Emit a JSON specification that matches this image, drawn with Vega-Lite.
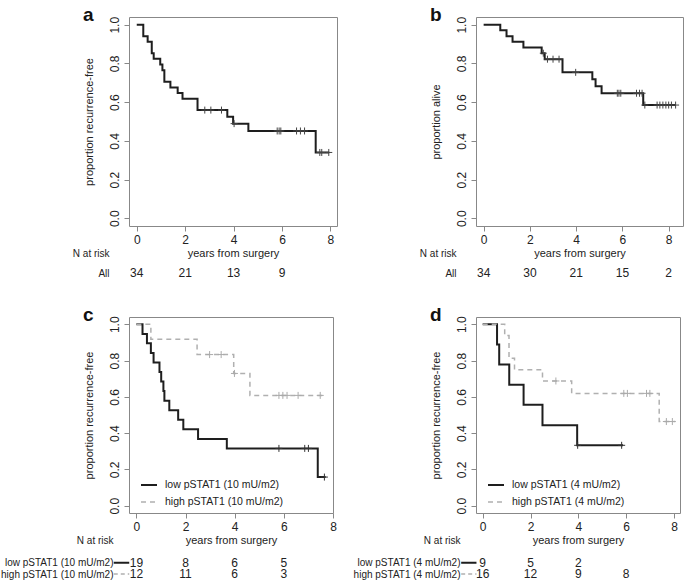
{
  "$schema": "https://vega.github.io/schema/vega-lite/v6.json",
  "padding": {"left": 0, "top": 5, "right": 0, "bottom": 0},
  "columns": 2,
  "align": "each",
  "spacing": {"row": 1, "column": 15},
  "resolve": {
    "scale": {"color": "independent", "strokeDash": "independent", "strokeWidth": "independent", "stroke": "independent"},
    "legend": {"color": "independent", "strokeDash": "independent"}
  },
  "datasets": {
    "km": [
      {"panel":"a","group":"All","t":0,"s":1},{"panel":"a","group":"All","t":0.27,"s":0.941},{"panel":"a","group":"All","t":0.45,"s":0.912},{"panel":"a","group":"All","t":0.62,"s":0.853},{"panel":"a","group":"All","t":0.70,"s":0.824},{"panel":"a","group":"All","t":0.97,"s":0.794},{"panel":"a","group":"All","t":1.06,"s":0.765},{"panel":"a","group":"All","t":1.14,"s":0.706},{"panel":"a","group":"All","t":1.39,"s":0.676},{"panel":"a","group":"All","t":1.69,"s":0.647},{"panel":"a","group":"All","t":1.89,"s":0.618},{"panel":"a","group":"All","t":2.51,"s":0.559},{"panel":"a","group":"All","t":3.74,"s":0.524},{"panel":"a","group":"All","t":3.98,"s":0.489},{"panel":"a","group":"All","t":4.61,"s":0.451},{"panel":"a","group":"All","t":7.39,"s":0.34},{"panel":"a","group":"All","t":7.95,"s":0.34},
      {"panel":"b","group":"All","t":0,"s":1},{"panel":"b","group":"All","t":0.72,"s":0.971},{"panel":"b","group":"All","t":0.99,"s":0.941},{"panel":"b","group":"All","t":1.25,"s":0.912},{"panel":"b","group":"All","t":1.72,"s":0.882},{"panel":"b","group":"All","t":2.51,"s":0.853},{"panel":"b","group":"All","t":2.64,"s":0.822},{"panel":"b","group":"All","t":3.41,"s":0.754},{"panel":"b","group":"All","t":4.70,"s":0.718},{"panel":"b","group":"All","t":4.84,"s":0.682},{"panel":"b","group":"All","t":5.10,"s":0.646},{"panel":"b","group":"All","t":6.90,"s":0.585},{"panel":"b","group":"All","t":8.30,"s":0.585},
      {"panel":"c","group":"low pSTAT1 (10 mU/m2)","t":0,"s":1},{"panel":"c","group":"low pSTAT1 (10 mU/m2)","t":0.25,"s":0.947},{"panel":"c","group":"low pSTAT1 (10 mU/m2)","t":0.43,"s":0.895},{"panel":"c","group":"low pSTAT1 (10 mU/m2)","t":0.59,"s":0.842},{"panel":"c","group":"low pSTAT1 (10 mU/m2)","t":0.70,"s":0.789},{"panel":"c","group":"low pSTAT1 (10 mU/m2)","t":0.94,"s":0.737},{"panel":"c","group":"low pSTAT1 (10 mU/m2)","t":1.01,"s":0.684},{"panel":"c","group":"low pSTAT1 (10 mU/m2)","t":1.10,"s":0.632},{"panel":"c","group":"low pSTAT1 (10 mU/m2)","t":1.14,"s":0.579},{"panel":"c","group":"low pSTAT1 (10 mU/m2)","t":1.34,"s":0.526},{"panel":"c","group":"low pSTAT1 (10 mU/m2)","t":1.70,"s":0.474},{"panel":"c","group":"low pSTAT1 (10 mU/m2)","t":1.91,"s":0.421},{"panel":"c","group":"low pSTAT1 (10 mU/m2)","t":2.51,"s":0.368},{"panel":"c","group":"low pSTAT1 (10 mU/m2)","t":3.68,"s":0.316},{"panel":"c","group":"low pSTAT1 (10 mU/m2)","t":7.38,"s":0.158},{"panel":"c","group":"low pSTAT1 (10 mU/m2)","t":7.70,"s":0.158},
      {"panel":"c","group":"high pSTAT1 (10 mU/m2)","t":0,"s":1},{"panel":"c","group":"high pSTAT1 (10 mU/m2)","t":0.59,"s":0.917},{"panel":"c","group":"high pSTAT1 (10 mU/m2)","t":2.47,"s":0.833},{"panel":"c","group":"high pSTAT1 (10 mU/m2)","t":3.96,"s":0.729},{"panel":"c","group":"high pSTAT1 (10 mU/m2)","t":4.62,"s":0.608},{"panel":"c","group":"high pSTAT1 (10 mU/m2)","t":7.60,"s":0.608},
      {"panel":"d","group":"low pSTAT1 (4 mU/m2)","t":0,"s":1},{"panel":"d","group":"low pSTAT1 (4 mU/m2)","t":0.60,"s":0.889},{"panel":"d","group":"low pSTAT1 (4 mU/m2)","t":0.69,"s":0.778},{"panel":"d","group":"low pSTAT1 (4 mU/m2)","t":1.11,"s":0.667},{"panel":"d","group":"low pSTAT1 (4 mU/m2)","t":1.71,"s":0.556},{"panel":"d","group":"low pSTAT1 (4 mU/m2)","t":2.50,"s":0.444},{"panel":"d","group":"low pSTAT1 (4 mU/m2)","t":3.95,"s":0.333},{"panel":"d","group":"low pSTAT1 (4 mU/m2)","t":5.87,"s":0.333},
      {"panel":"d","group":"high pSTAT1 (4 mU/m2)","t":0,"s":1},{"panel":"d","group":"high pSTAT1 (4 mU/m2)","t":0.92,"s":0.9375},{"panel":"d","group":"high pSTAT1 (4 mU/m2)","t":1.10,"s":0.8125},{"panel":"d","group":"high pSTAT1 (4 mU/m2)","t":1.33,"s":0.75},{"panel":"d","group":"high pSTAT1 (4 mU/m2)","t":2.50,"s":0.6875},{"panel":"d","group":"high pSTAT1 (4 mU/m2)","t":3.72,"s":0.619},{"panel":"d","group":"high pSTAT1 (4 mU/m2)","t":7.38,"s":0.464},{"panel":"d","group":"high pSTAT1 (4 mU/m2)","t":8.05,"s":0.464}
    ],
    "cens": [
      {"panel":"a","group":"All","t":2.81,"s":0.559},{"panel":"a","group":"All","t":3.06,"s":0.559},{"panel":"a","group":"All","t":3.50,"s":0.559},{"panel":"a","group":"All","t":4.02,"s":0.489},{"panel":"a","group":"All","t":5.80,"s":0.451},{"panel":"a","group":"All","t":5.88,"s":0.451},{"panel":"a","group":"All","t":5.95,"s":0.451},{"panel":"a","group":"All","t":6.60,"s":0.451},{"panel":"a","group":"All","t":6.76,"s":0.451},{"panel":"a","group":"All","t":6.93,"s":0.451},{"panel":"a","group":"All","t":7.56,"s":0.34},{"panel":"a","group":"All","t":7.64,"s":0.34},{"panel":"a","group":"All","t":7.93,"s":0.34},
      {"panel":"b","group":"All","t":2.58,"s":0.853},{"panel":"b","group":"All","t":2.76,"s":0.822},{"panel":"b","group":"All","t":3.00,"s":0.822},{"panel":"b","group":"All","t":3.26,"s":0.822},{"panel":"b","group":"All","t":3.98,"s":0.754},{"panel":"b","group":"All","t":5.78,"s":0.646},{"panel":"b","group":"All","t":5.85,"s":0.646},{"panel":"b","group":"All","t":5.93,"s":0.646},{"panel":"b","group":"All","t":6.61,"s":0.646},{"panel":"b","group":"All","t":6.74,"s":0.646},{"panel":"b","group":"All","t":6.85,"s":0.646},{"panel":"b","group":"All","t":6.97,"s":0.585},{"panel":"b","group":"All","t":7.50,"s":0.585},{"panel":"b","group":"All","t":7.62,"s":0.585},{"panel":"b","group":"All","t":7.75,"s":0.585},{"panel":"b","group":"All","t":7.88,"s":0.585},{"panel":"b","group":"All","t":8.00,"s":0.585},{"panel":"b","group":"All","t":8.12,"s":0.585},{"panel":"b","group":"All","t":8.30,"s":0.585},
      {"panel":"c","group":"low pSTAT1 (10 mU/m2)","t":5.80,"s":0.316},{"panel":"c","group":"low pSTAT1 (10 mU/m2)","t":6.85,"s":0.316},{"panel":"c","group":"low pSTAT1 (10 mU/m2)","t":7.00,"s":0.316},{"panel":"c","group":"low pSTAT1 (10 mU/m2)","t":7.65,"s":0.158},
      {"panel":"c","group":"high pSTAT1 (10 mU/m2)","t":2.98,"s":0.833},{"panel":"c","group":"high pSTAT1 (10 mU/m2)","t":3.45,"s":0.833},{"panel":"c","group":"high pSTAT1 (10 mU/m2)","t":3.99,"s":0.729},{"panel":"c","group":"high pSTAT1 (10 mU/m2)","t":5.80,"s":0.608},{"panel":"c","group":"high pSTAT1 (10 mU/m2)","t":5.96,"s":0.608},{"panel":"c","group":"high pSTAT1 (10 mU/m2)","t":6.13,"s":0.608},{"panel":"c","group":"high pSTAT1 (10 mU/m2)","t":6.58,"s":0.608},{"panel":"c","group":"high pSTAT1 (10 mU/m2)","t":7.48,"s":0.608},
      {"panel":"d","group":"low pSTAT1 (4 mU/m2)","t":3.97,"s":0.333},{"panel":"d","group":"low pSTAT1 (4 mU/m2)","t":5.81,"s":0.333},
      {"panel":"d","group":"high pSTAT1 (4 mU/m2)","t":3.06,"s":0.6875},{"panel":"d","group":"high pSTAT1 (4 mU/m2)","t":5.90,"s":0.619},{"panel":"d","group":"high pSTAT1 (4 mU/m2)","t":6.05,"s":0.619},{"panel":"d","group":"high pSTAT1 (4 mU/m2)","t":6.85,"s":0.619},{"panel":"d","group":"high pSTAT1 (4 mU/m2)","t":6.99,"s":0.619},{"panel":"d","group":"high pSTAT1 (4 mU/m2)","t":7.68,"s":0.464},{"panel":"d","group":"high pSTAT1 (4 mU/m2)","t":7.93,"s":0.464}
    ],
    "risk": [
      {"panel":"a","row":"All","t":0,"n":34},{"panel":"a","row":"All","t":2,"n":21},{"panel":"a","row":"All","t":4,"n":13},{"panel":"a","row":"All","t":6,"n":9},
      {"panel":"b","row":"All","t":0,"n":34},{"panel":"b","row":"All","t":2,"n":30},{"panel":"b","row":"All","t":4,"n":21},{"panel":"b","row":"All","t":6,"n":15},{"panel":"b","row":"All","t":8,"n":2},
      {"panel":"c","row":"low pSTAT1 (10 mU/m2)","t":0,"n":19},{"panel":"c","row":"low pSTAT1 (10 mU/m2)","t":2,"n":8},{"panel":"c","row":"low pSTAT1 (10 mU/m2)","t":4,"n":6},{"panel":"c","row":"low pSTAT1 (10 mU/m2)","t":6,"n":5},
      {"panel":"c","row":"high pSTAT1 (10 mU/m2)","t":0,"n":12},{"panel":"c","row":"high pSTAT1 (10 mU/m2)","t":2,"n":11},{"panel":"c","row":"high pSTAT1 (10 mU/m2)","t":4,"n":6},{"panel":"c","row":"high pSTAT1 (10 mU/m2)","t":6,"n":3},
      {"panel":"d","row":"low pSTAT1 (4 mU/m2)","t":0,"n":9},{"panel":"d","row":"low pSTAT1 (4 mU/m2)","t":2,"n":5},{"panel":"d","row":"low pSTAT1 (4 mU/m2)","t":4,"n":2},
      {"panel":"d","row":"high pSTAT1 (4 mU/m2)","t":0,"n":16},{"panel":"d","row":"high pSTAT1 (4 mU/m2)","t":2,"n":12},{"panel":"d","row":"high pSTAT1 (4 mU/m2)","t":4,"n":9},{"panel":"d","row":"high pSTAT1 (4 mU/m2)","t":6,"n":8}
    ]
  },
  "concat": [
    {
      "title": {"text": "a"},
      "width": 208, "height": 209,
      "data": {"name": "km"},
      "layer": [
        {"transform": [{"filter": "datum.panel === 'a'"}],
         "mark": {"type": "line", "interpolate": "step-after", "color": "#1e1e1e", "strokeWidth": 2},
         "encoding": {
           "x": {"field": "t", "type": "quantitative", "scale": {"domain": [-0.32, 8.27], "nice": false, "zero": false}, "axis": {"title": null, "values": [0,2,4,6,8], "tickCount": 5, "labelPadding": 3, "labelFlush": false}},
           "y": {"field": "s", "type": "quantitative", "scale": {"domain": [-0.04, 1.04], "nice": false, "zero": false}, "axis": {"title": "proportion recurrence-free", "values": [0,0.2,0.4,0.6,0.8,1], "tickCount": 6, "format": ".1f", "labelAngle": 270, "labelAlign": "center", "labelBaseline": "bottom", "labelPadding": 3, "titlePadding": 14, "labelOverlap": false}}
         }},
        {"data": {"name": "cens"}, "transform": [{"filter": "datum.panel === 'a'"}],
         "mark": {"type": "point", "shape": "M0,-1L0,1M-1,0L1,0", "filled": false, "size": 49, "strokeWidth": 1, "color": "#444", "opacity": 1},
         "encoding": {"x": {"field": "t", "type": "quantitative"}, "y": {"field": "s", "type": "quantitative"}}}
      ]
    },
    {
      "title": {"text": "b"},
      "width": 207, "height": 209,
      "data": {"name": "km"},
      "layer": [
        {"transform": [{"filter": "datum.panel === 'b'"}],
         "mark": {"type": "line", "interpolate": "step-after", "color": "#1e1e1e", "strokeWidth": 2},
         "encoding": {
           "x": {"field": "t", "type": "quantitative", "scale": {"domain": [-0.33, 8.62], "nice": false, "zero": false}, "axis": {"title": null, "values": [0,2,4,6,8], "tickCount": 5, "labelPadding": 3, "labelFlush": false}},
           "y": {"field": "s", "type": "quantitative", "scale": {"domain": [-0.04, 1.04], "nice": false, "zero": false}, "axis": {"title": "proportion alive", "values": [0,0.2,0.4,0.6,0.8,1], "tickCount": 6, "format": ".1f", "labelAngle": 270, "labelAlign": "center", "labelBaseline": "bottom", "labelPadding": 3, "titlePadding": 14, "labelOverlap": false}}
         }},
        {"data": {"name": "cens"}, "transform": [{"filter": "datum.panel === 'b'"}],
         "mark": {"type": "point", "shape": "M0,-1L0,1M-1,0L1,0", "filled": false, "size": 49, "strokeWidth": 1, "color": "#444", "opacity": 1},
         "encoding": {"x": {"field": "t", "type": "quantitative"}, "y": {"field": "s", "type": "quantitative"}}}
      ]
    },
    {
      "width": 208, "height": 51,
      "view": {"stroke": null},
      "data": {"name": "risk"},
      "transform": [{"filter": "datum.panel === 'a'"}],
      "mark": {"type": "text", "fontSize": 12, "color": "#222"},
      "encoding": {
        "x": {"field": "t", "type": "quantitative", "scale": {"domain": [-0.32, 8.27], "nice": false, "zero": false}, "axis": {"orient": "top", "title": "years from surgery", "labels": false, "ticks": false, "domain": false, "titlePadding": 0, "titleBaseline": "middle"}},
        "y": {"field": "row", "type": "ordinal", "scale": {"type": "point", "domain": ["N at risk", "All"], "range": [0, 20], "padding": 0}, "axis": {"title": null, "ticks": false, "domain": false, "labelPadding": 20, "labelFontSize": 10}},
        "text": {"field": "n", "type": "quantitative"}
      }
    },
    {
      "width": 207, "height": 51,
      "view": {"stroke": null},
      "data": {"name": "risk"},
      "transform": [{"filter": "datum.panel === 'b'"}],
      "mark": {"type": "text", "fontSize": 12, "color": "#222"},
      "encoding": {
        "x": {"field": "t", "type": "quantitative", "scale": {"domain": [-0.33, 8.62], "nice": false, "zero": false}, "axis": {"orient": "top", "title": "years from surgery", "labels": false, "ticks": false, "domain": false, "titlePadding": 0, "titleBaseline": "middle"}},
        "y": {"field": "row", "type": "ordinal", "scale": {"type": "point", "domain": ["N at risk", "All"], "range": [0, 20], "padding": 0}, "axis": {"title": null, "ticks": false, "domain": false, "labelPadding": 20, "labelFontSize": 10}},
        "text": {"field": "n", "type": "quantitative"}
      }
    },
    {
      "title": {"text": "c"},
      "width": 204, "height": 196,
      "data": {"name": "km"},
      "layer": [
        {"transform": [{"filter": "datum.panel === 'c'"}],
         "mark": {"type": "line", "interpolate": "step-after"},
         "encoding": {
           "x": {"field": "t", "type": "quantitative", "scale": {"domain": [-0.3, 8.0], "nice": false, "zero": false}, "axis": {"title": null, "values": [0,2,4,6,8], "tickCount": 5, "labelPadding": 3, "labelFlush": false}},
           "y": {"field": "s", "type": "quantitative", "scale": {"domain": [-0.04, 1.04], "nice": false, "zero": false}, "axis": {"title": "proportion recurrence-free", "values": [0,0.2,0.4,0.6,0.8,1], "tickCount": 6, "format": ".1f", "labelAngle": 270, "labelAlign": "center", "labelBaseline": "bottom", "labelPadding": 3, "titlePadding": 14, "labelOverlap": false}},
           "color": {"field": "group", "type": "nominal", "scale": {"domain": ["low pSTAT1 (10 mU/m2)", "high pSTAT1 (10 mU/m2)"], "range": ["#1e1e1e", "#b0b0b0"]}, "legend": {"orient": "bottom-left", "title": null, "offset": 5, "padding": 0, "symbolType": "stroke", "symbolSize": 256, "symbolStrokeWidth": 2, "symbolOffset": 6, "labelFontSize": 10.5, "labelOffset": 7, "rowPadding": 2, "labelColor": "#222"}},
           "strokeDash": {"field": "group", "type": "nominal", "scale": {"domain": ["low pSTAT1 (10 mU/m2)", "high pSTAT1 (10 mU/m2)"], "range": [[1, 0], [5, 4]]}, "legend": {"orient": "bottom-left", "title": null, "offset": 5, "padding": 0, "symbolType": "stroke", "symbolSize": 256, "symbolStrokeWidth": 2, "symbolOffset": 6, "labelFontSize": 10.5, "labelOffset": 7, "rowPadding": 2, "labelColor": "#222"}},
           "strokeWidth": {"field": "group", "type": "ordinal", "scale": {"domain": ["low pSTAT1 (10 mU/m2)", "high pSTAT1 (10 mU/m2)"], "range": [2, 1.5]}, "legend": null}
         }},
        {"data": {"name": "cens"}, "transform": [{"filter": "datum.panel === 'c'"}],
         "mark": {"type": "point", "shape": "M0,-1L0,1M-1,0L1,0", "filled": false, "size": 49, "strokeWidth": 1, "opacity": 1},
         "encoding": {"x": {"field": "t", "type": "quantitative"}, "y": {"field": "s", "type": "quantitative"},
           "stroke": {"field": "group", "type": "nominal", "scale": {"domain": ["low pSTAT1 (10 mU/m2)", "high pSTAT1 (10 mU/m2)"], "range": ["#333", "#aaa"]}, "legend": null}}}
      ]
    },
    {
      "title": {"text": "d"},
      "width": 204, "height": 196,
      "data": {"name": "km"},
      "layer": [
        {"transform": [{"filter": "datum.panel === 'd'"}],
         "mark": {"type": "line", "interpolate": "step-after"},
         "encoding": {
           "x": {"field": "t", "type": "quantitative", "scale": {"domain": [-0.28, 8.25], "nice": false, "zero": false}, "axis": {"title": null, "values": [0,2,4,6,8], "tickCount": 5, "labelPadding": 3, "labelFlush": false}},
           "y": {"field": "s", "type": "quantitative", "scale": {"domain": [-0.04, 1.04], "nice": false, "zero": false}, "axis": {"title": "proportion recurrence-free", "values": [0,0.2,0.4,0.6,0.8,1], "tickCount": 6, "format": ".1f", "labelAngle": 270, "labelAlign": "center", "labelBaseline": "bottom", "labelPadding": 3, "titlePadding": 14, "labelOverlap": false}},
           "color": {"field": "group", "type": "nominal", "scale": {"domain": ["low pSTAT1 (4 mU/m2)", "high pSTAT1 (4 mU/m2)"], "range": ["#1e1e1e", "#b0b0b0"]}, "legend": {"orient": "bottom-left", "title": null, "offset": 5, "padding": 0, "symbolType": "stroke", "symbolSize": 256, "symbolStrokeWidth": 2, "symbolOffset": 6, "labelFontSize": 10.5, "labelOffset": 7, "rowPadding": 2, "labelColor": "#222"}},
           "strokeDash": {"field": "group", "type": "nominal", "scale": {"domain": ["low pSTAT1 (4 mU/m2)", "high pSTAT1 (4 mU/m2)"], "range": [[1, 0], [5, 4]]}, "legend": {"orient": "bottom-left", "title": null, "offset": 5, "padding": 0, "symbolType": "stroke", "symbolSize": 256, "symbolStrokeWidth": 2, "symbolOffset": 6, "labelFontSize": 10.5, "labelOffset": 7, "rowPadding": 2, "labelColor": "#222"}},
           "strokeWidth": {"field": "group", "type": "ordinal", "scale": {"domain": ["low pSTAT1 (4 mU/m2)", "high pSTAT1 (4 mU/m2)"], "range": [2, 1.5]}, "legend": null}
         }},
        {"data": {"name": "cens"}, "transform": [{"filter": "datum.panel === 'd'"}],
         "mark": {"type": "point", "shape": "M0,-1L0,1M-1,0L1,0", "filled": false, "size": 49, "strokeWidth": 1, "opacity": 1},
         "encoding": {"x": {"field": "t", "type": "quantitative"}, "y": {"field": "s", "type": "quantitative"},
           "stroke": {"field": "group", "type": "nominal", "scale": {"domain": ["low pSTAT1 (4 mU/m2)", "high pSTAT1 (4 mU/m2)"], "range": ["#333", "#aaa"]}, "legend": null}}}
      ]
    },
    {
      "width": 204, "height": 36,
      "view": {"stroke": null},
      "data": {"name": "risk"},
      "transform": [{"filter": "datum.panel === 'c'"}],
      "layer": [
        {"mark": {"type": "text", "fontSize": 12, "color": "#222"},
         "encoding": {
           "x": {"field": "t", "type": "quantitative", "scale": {"domain": [-0.3, 8.0], "nice": false, "zero": false}, "axis": {"orient": "top", "title": "years from surgery", "labels": false, "ticks": false, "domain": false, "titlePadding": 0, "titleBaseline": "middle"}},
           "y": {"field": "row", "type": "ordinal", "scale": {"type": "point", "domain": ["N at risk", " ", "low pSTAT1 (10 mU/m2)", "high pSTAT1 (10 mU/m2)"], "range": [0, 34], "padding": 0}, "axis": {"title": null, "ticks": false, "domain": false, "labelPadding": 16, "labelFontSize": 10}},
           "text": {"field": "n", "type": "quantitative"}
         }},
        {"transform": [{"filter": "datum.t === 0"}],
         "mark": {"type": "rule"},
         "encoding": {
           "x": {"datum": -0.92}, "x2": {"datum": -0.29},
           "y": {"field": "row", "type": "ordinal"},
           "color": {"field": "row", "type": "nominal", "scale": {"domain": ["low pSTAT1 (10 mU/m2)", "high pSTAT1 (10 mU/m2)"], "range": ["#1e1e1e", "#b0b0b0"]}, "legend": null},
           "strokeDash": {"field": "row", "type": "nominal", "scale": {"domain": ["low pSTAT1 (10 mU/m2)", "high pSTAT1 (10 mU/m2)"], "range": [[1, 0], [4, 3]]}, "legend": null},
           "strokeWidth": {"field": "row", "type": "ordinal", "scale": {"domain": ["low pSTAT1 (10 mU/m2)", "high pSTAT1 (10 mU/m2)"], "range": [2, 1.5]}, "legend": null}
         }}
      ]
    },
    {
      "width": 204, "height": 36,
      "view": {"stroke": null},
      "data": {"name": "risk"},
      "transform": [{"filter": "datum.panel === 'd'"}],
      "layer": [
        {"mark": {"type": "text", "fontSize": 12, "color": "#222"},
         "encoding": {
           "x": {"field": "t", "type": "quantitative", "scale": {"domain": [-0.28, 8.25], "nice": false, "zero": false}, "axis": {"orient": "top", "title": "years from surgery", "labels": false, "ticks": false, "domain": false, "titlePadding": 0, "titleBaseline": "middle"}},
           "y": {"field": "row", "type": "ordinal", "scale": {"type": "point", "domain": ["N at risk", " ", "low pSTAT1 (4 mU/m2)", "high pSTAT1 (4 mU/m2)"], "range": [0, 34], "padding": 0}, "axis": {"title": null, "ticks": false, "domain": false, "labelPadding": 16, "labelFontSize": 10}},
           "text": {"field": "n", "type": "quantitative"}
         }},
        {"transform": [{"filter": "datum.t === 0"}],
         "mark": {"type": "rule"},
         "encoding": {
           "x": {"datum": -0.9}, "x2": {"datum": -0.26},
           "y": {"field": "row", "type": "ordinal"},
           "color": {"field": "row", "type": "nominal", "scale": {"domain": ["low pSTAT1 (4 mU/m2)", "high pSTAT1 (4 mU/m2)"], "range": ["#1e1e1e", "#b0b0b0"]}, "legend": null},
           "strokeDash": {"field": "row", "type": "nominal", "scale": {"domain": ["low pSTAT1 (4 mU/m2)", "high pSTAT1 (4 mU/m2)"], "range": [[1, 0], [4, 3]]}, "legend": null},
           "strokeWidth": {"field": "row", "type": "ordinal", "scale": {"domain": ["low pSTAT1 (4 mU/m2)", "high pSTAT1 (4 mU/m2)"], "range": [2, 1.5]}, "legend": null}
         }}
      ]
    }
  ],
  "config": {
    "font": "Liberation Sans, Arial, sans-serif",
    "view": {"stroke": "#888", "strokeWidth": 1},
    "axis": {"grid": false, "domain": false, "tickColor": "#888", "tickSize": 5, "labelFontSize": 12, "labelColor": "#222", "titleFontSize": 11, "titleFontWeight": "normal", "titleColor": "#222", "labelOverlap": false, "labelBound": false, "minExtent": 0},
    "title": {"fontSize": 19, "fontWeight": "bold", "anchor": "start", "frame": "bounds", "offset": -9, "baseline": "alphabetic", "color": "#111"}
  }
}
